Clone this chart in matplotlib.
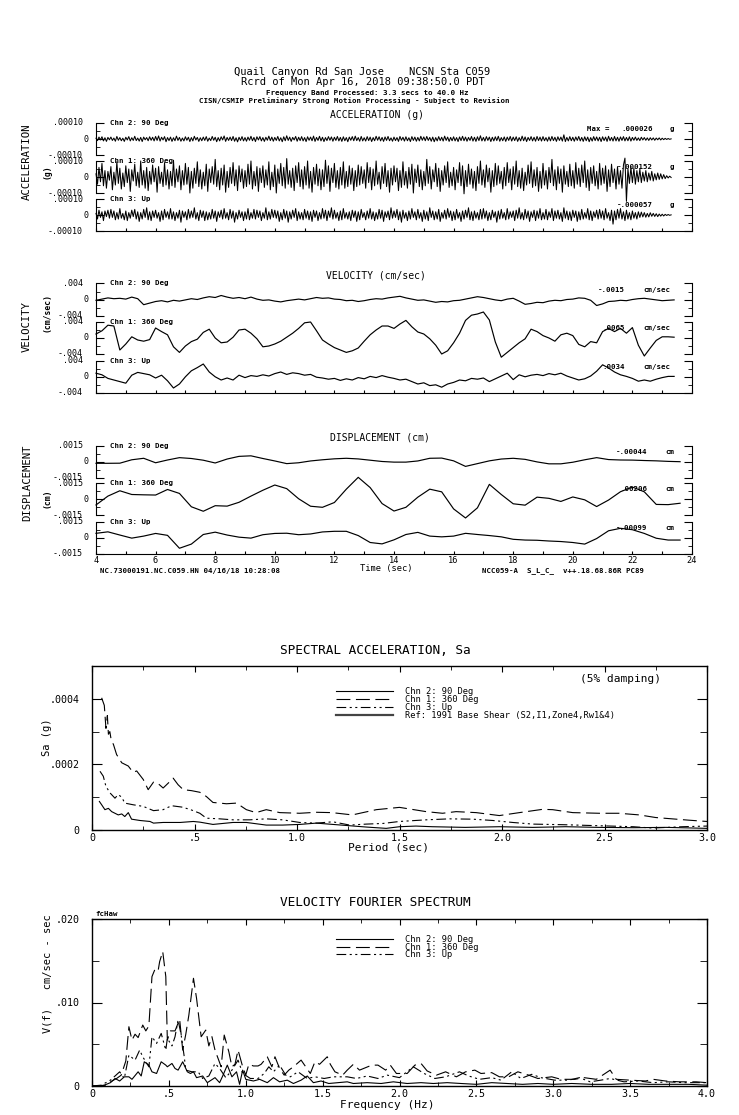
import numpy as np
import matplotlib.pyplot as plt
from matplotlib.lines import Line2D
from matplotlib.ticker import MultipleLocator

plt.rcParams['font.family'] = 'DejaVu Sans Mono'
plt.rcParams['lines.scale_dashes'] = False

# header / footer text
station = 'Quail Canyon Rd San Jose    NCSN Sta C059'
record = 'Rcrd of Mon Apr 16, 2018 09:38:50.0 PDT'
band = 'Frequency Band Processed: 3.3 secs to 40.0 Hz'
notice = 'CISN/CSMIP Preliminary Strong Motion Processing - Subject to Revision'
footer_left = 'NC.73000191.NC.C059.HN 04/16/18 10:28:08'
footer_right = 'NCC059-A  S_L_C_  v++.18.68.86R PC89'

channels = ['Chn 2: 90 Deg', 'Chn 1: 360 Deg', 'Chn 3: Up']

# acceleration, 1e-6 g, every 0.05 s from 4.0 s (one row = 1 s)
acc_ch2 = [5, -10, 12, -6, 14, -12, 8, -15, 10, -5, 12, -9, 6, -14, 16, -8, 9, -11, 5, -15,
           11, -6, 15, -12, 8, -9, 17, -10, 6, -13, 10, -16, 12, -5, 9, -11, 14, -8, 11, -12,
           16, -9, 19, -13, 11, -6, 15, -17, 9, -10, 12, -15, 8, -11, 18, -9, 10, -14, 6, -12,
           14, -8, 11, -16, 9, -12, 17, -6, 10, -15, 8, -11, 12, -9, 15, -14, 6, -10, 16, -8,
           11, -17, 9, -12, 14, -6, 19, -15, 10, -9, 12, -10, 16, -14, 8, -18, 11, -9, 15, -12,
           9, -14, 12, -8, 17, -11, 10, -16, 14, -6, 15, -12, 9, -15, 11, -8, 18, -10, 12, -14,
           10, -9, 16, -12, 8, -17, 14, -11, 20, -9, 12, -15, 10, -6, 16, -14, 11, -10, 15, -12,
           9, -16, 14, -8, 12, -11, 18, -15, 10, -9, 17, -12, 11, -16, 9, -10, 15, -8, 13, -14,
           11, -9, 16, -12, 10, -15, 14, -11, 9, -17, 12, -8, 15, -11, 18, -10, 9, -14, 16, -12,
           8, -13, 15, -10, 12, -16, 9, -11, 17, -8, 14, -12, 10, -15, 13, -9, 16, -11, 7, -14,
           12, -10, 9, -15, 16, -8, 11, -13, 14, -11, 8, -16, 15, -9, 12, -14, 10, -12, 17, -8,
           13, -11, 16, -9, 10, -14, 12, -17, 9, -12, 15, -10, 11, -13, 18, -9, 12, -15, 10, -11,
           14, -12, 9, -16, 13, -10, 17, -11, 12, -14, 10, -9, 16, -13, 11, -15, 14, -10, 20, -12,
           10, -13, 15, -9, 12, -16, 11, -12, 14, -10, 17, -14, 9, -11, 13, -15, 12, -9, 16, -13,
           12, -10, 14, -15, 9, -12, 18, -11, 13, -16, 10, -9, 15, -12, 11, -14, 16, -10, 12, -13,
           15, -11, 9, -14, 13, -12, 16, -10, 11, -15, 14, -9, 12, -13, 26, -16, 10, -12, 15, -11,
           11, -14, 13, -9, 16, -12, 10, -15, 14, -11, 12, -17, 9, -13, 15, -10, 13, -12, 11, -16,
           14, -10, 12, -15, 17, -11, 10, -13, 16, -12, 11, -14, 13, -9, 15, -12, 10, -11, 14, -13,
           10, -8, 12, -9, 7, -10, 11, -6, 9, -8, 7, -9, 8, -6, 7, -8, 6, -5, 7, -6,
           5, -4, 4, -3, 3, -2, 1]
acc_ch1 = [20, -45, 60, -30, 85, -55, 40, -70, 35, -20, 65, -80, 30, -50, 95, -40, 55, -75, 25, -60,
           70, -35, 50, -90, 45, -25, 80, -55, 30, -65, 100, -50, 40, -70, 60, -85, 35, -45, 75, -30,
           55, -95, 65, -40, 30, -60, 90, -50, 45, -75, 35, -55, 105, -65, 50, -30, 70, -80, 40, -50,
           85, -45, 60, -100, 35, -70, 55, -40, 95, -60, 45, -75, 30, -55, 80, -90, 50, -35, 65, -45,
           110, -60, 40, -80, 55, -50, 75, -95, 35, -65, 60, -40, 90, -55, 45, -85, 70, -30, 50, -70,
           40, -60, 80, -45, 100, -75, 35, -55, 65, -90, 55, -35, 70, -65, 45, -50, 95, -80, 30, -60,
           75, -100, 50, -40, 85, -55, 60, -70, 115, -45, 40, -65, 55, -85, 70, -35, 90, -60, 45, -75,
           65, -50, 100, -70, 35, -95, 60, -45, 80, -55, 50, -80, 45, -60, 105, -40, 70, -90, 55, -35,
           85, -65, 40, -75, 60, -50, 95, -70, 35, -60, 70, -45, 55, -85, 40, -60, 75, -50, 65, -40,
           45, -70, 90, -35, 60, -80, 50, -55, 100, -45, 30, -75, 65, -40, 85, -60, 40, -95, 55, -50,
           70, -30, 55, -85, 40, -65, 95, -50, 35, -70, 60, -45, 80, -100, 50, -35, 75, -60, 45, -80,
           35, -55, 110, -40, 65, -75, 45, -30, 85, -60, 55, -90, 40, -50, 70, -35, 95, -65, 30, -55,
           60, -80, 45, -35, 90, -55, 70, -105, 40, -60, 80, -45, 50, -70, 35, -85, 65, -40, 100, -50,
           45, -65, 75, -30, 55, -95, 40, -60, 85, -50, 70, -40, 35, -75, 60, -55, 90, -35, 50, -80,
           65, -45, 100, -60, 40, -70, 55, -85, 30, -50, 75, -40, 95, -65, 45, -55, 60, -90, 35, -70,
           85, -50, 40, -75, 60, -35, 110, -55, 45, -80, 65, -40, 50, -95, 70, -45, 35, -60, 80, -55,
           40, -70, 90, -45, 55, -60, 75, -35, 100, -65, 45, -85, 60, -40, 70, -55, 35, -75, 85, -50,
           55, -40, 70, -90, 45, -60, 80, -35, 50, -75, 65, -45, 40, -70, 75, 118, -152, 50, -40, 60,
           -35, 55, -45, 40, -30, 50, -35, 30, -25, 40, -30, 25, -20, 35, -25, 20, -18, 25, -15, 20,
           -12, 15, -10, 8, -6, 5, -3]
acc_ch3 = [10, -25, 30, -15, 20, -35, 25, -10, 30, -20, 35, -15, 25, -30, 15, -25, 40, -20, 10, -30,
           25, -35, 15, -20, 30, -10, 35, -25, 20, -40, 15, -25, 35, -15, 45, -30, 20, -35, 25, -15,
           30, -20, 15, -40, 25, -30, 35, -15, 20, -25, 40, -25, 20, -35, 15, -20, 30, -45, 25, -15,
           20, -30, 35, -20, 25, -15, 45, -25, 15, -35, 30, -15, 25, -35, 20, -30, 15, -25, 35, -20,
           25, -40, 20, -15, 30, -25, 40, -20, 15, -30, 35, -20, 25, -45, 15, -25, 30, -15, 20, -35,
           20, -25, 40, -30, 15, -20, 35, -25, 30, -15, 25, -35, 15, -20, 45, -30, 20, -25, 35, -15,
           30, -20, 25, -40, 15, -30, 35, -20, 25, -45, 20, -25, 30, -15, 40, -35, 20, -25, 15, -30,
           35, -20, 25, -30, 20, -40, 30, -15, 25, -35, 15, -25, 40, -20, 30, -35, 25, -15, 45, -25,
           30, -20, 15, -35, 25, -30, 40, -20, 15, -25, 20, -35, 30, -15, 25, -40, 20, -30, 35, -15,
           15, -30, 25, -20, 40, -25, 20, -35, 15, -25, 35, -20, 30, -40, 20, -15, 25, -30, 45, -20,
           25, -15, 35, -30, 20, -45, 30, -20, 15, -35, 25, -25, 40, -15, 20, -30, 35, -20, 15, -40,
           30, -25, 20, -35, 45, -15, 25, -30, 20, -25, 35, -40, 15, -20, 30, -25, 40, -15, 25, -35,
           20, -30, 35, -20, 15, -40, 25, -25, 30, -15, 45, -30, 20, -35, 25, -20, 15, -30, 35, -25,
           40, -20, 25, -35, 15, -30, 30, -15, 20, -45, 25, -25, 35, -20, 15, -30, 40, -25, 20, -15,
           25, -35, 30, -20, 45, -25, 15, -30, 35, -20, 25, -40, 20, -15, 30, -35, 25, -20, 40, -30,
           15, -25, 35, -30, 20, -15, 40, -35, 25, -20, 30, -25, 15, -40, 45, -20, 25, -30, 20, -35,
           30, -15, 25, -40, 20, -30, 35, -25, 15, -20, 40, -30, 25, -35, 20, -15, 30, -25, 35, -20,
           25, -30, 40, -20, 15, -35, 30, -57, 25, -30, 35, -20, 40, -25, 20, -35, 30, -25, 15, -30,
           25, -20, 15, -25, 20, -15, 18, -12, 15, -14, 10, -12, 14, -8, 10, -9, 8, -10, 6, -7,
           5, -6, 4, -3, 3, -2, 1]
acc_peaks = ['.000026', '-.000152', '-.000057']

# velocity, 1e-4 cm/sec, every 0.2 s from 4.0 s
vel_ch2 = [-2, 1, 4, 2, 3, 1, 6, 2, -13, -9,
           -5, -3, -6, -2, -4, -1, 2, 0, 4, 7,
           5, 10, 6, 3, 5, 2, 6, 1, -2, -1,
           -4, -6, -3, -1, 1, -1, 2, 5, 3, 4,
           1, 0, -3, -2, -5, -3, 0, 2, 1, 4,
           6, 8, 4, 1, -2, -1, -4, -7, -5, -6,
           -3, -2, 1, 4, 7, 5, 2, -1, -3, 1,
           3, -4, -12, -10, -7, -8, -4, -2, -3, 0,
           1, 4, 3, -2, -15, -11, -5, -4, -2, -3,
           0, 2, 3, 1, -1, -3, -2, -1]
vel_ch1 = [10, 18, 32, 30, -30, -15, 3, -5, -8, -4,
           25, 16, 8, -22, -36, -20, -9, -3, 14, 22,
           0, -12, -10, 2, 20, 22, 12, -2, -22, -20,
           -15, -8, 2, 12, 24, 38, 40, 18, -5, -15,
           -24, -30, -36, -32, -25, -8, 8, 20, 30, 30,
           24, 35, 44, 28, 15, 10, -2, -18, -40, -32,
           -12, 12, 44, 57, 60, 65, 45, -10, -48, -36,
           -24, -12, -2, 22, 16, 6, 0, -8, 8, 12,
           6, -16, -22, -9, -12, 16, 24, 16, 24, 12,
           26, -18, -45, -25, -6, 3, 3, 2]
vel_ch3 = [9, 5, -4, -8, -12, -16, 4, 11, 8, 5,
           -3, 4, -10, -28, -18, 0, 15, 23, 32, 12,
           0, -8, -3, -8, 4, -2, 3, 1, 5, 2,
           8, 12, 6, 10, 8, 4, 6, -1, -3, -6,
           -4, -9, -5, -8, -2, -5, 1, -2, 3, -1,
           -4, -8, -6, -12, -18, -15, -22, -20, -26, -18,
           -14, -8, -10, -4, -6, -3, -12, -5, 2, 9,
           -7, 5, 0, 4, 6, 3, 8, 5, 9, 2,
           -3, -8, -5, 2, 14, 30, 22, 12, 5, 1,
           -4, -11, -8, -11, -6, -2, 1, 1]
vel_peaks = ['-.0015', '.0065', '.0034']

# displacement, 1e-5 cm, every 0.4 s from 4.0 s
disp_ch2 = [-15, -15, -14, 18, 32, -10, 16, 38, 30, 14,
            -12, 25, 50, 55, 30, 7, -18, -10, 7, 18,
            27, 32, 26, 14, 2, -4, -4, 7, 32, 34,
            8, -44, -18, 8, 25, 32, 22, -2, -20, -20,
            -5, 18, 38, 20, 16, 15, 11, 8, 3, 0]
disp_ch1 = [-53, 30, 80, 45, 42, 40, 92, 55, -70, -112,
            -60, -64, -28, 30, 85, 134, 100, 5, -65, -75,
            -30, 95, 206, 110, -40, -110, -75, 20, 95, 70,
            -90, -175, -80, 140, 45, -42, -55, 20, 9, -20,
            22, -5, -68, -7, 71, 115, 70, -48, -50, -37]
disp_ch3 = [41, 55, 25, -4, 15, 40, 22, -99, -60, 30,
            52, 25, 5, -4, 28, 40, 42, 28, 35, 54,
            60, 60, 20, -45, -58, -20, 30, 50, 15, 8,
            15, 41, 30, 20, 8, -15, -22, -24, -31, -36,
            -45, -60, -8, 65, 88, 75, 40, -5, -22, -22]
disp_peaks = ['-.00044', '.00206', '-.00099']

# spectral acceleration, 5% damping, 1e-6 g
sa_period_ch2 = [0.036, 0.047, 0.063, 0.08, 0.096, 0.112, 0.128, 0.145, 0.16, 0.177,
                 0.193, 0.234, 0.283, 0.30, 0.347, 0.43, 0.494, 0.526, 0.59, 0.688,
                 0.753, 0.85, 0.93, 1.013, 1.094, 1.175, 1.257, 1.338, 1.435, 1.50,
                 1.58, 1.66, 1.82, 1.987, 2.15, 2.31, 2.47, 2.64, 2.80, 3.0]
sa_ch2 = [87, 77, 62, 66, 56, 51, 46, 49, 41, 53,
          33, 29, 26, 21, 23, 23, 26, 24, 17, 23,
          23, 15, 15, 17, 21, 17, 13, 9, 5, 10,
          12, 10, 8, 10, 8, 10, 8, 7, 8, 5]
sa_period_ch1 = [0.047, 0.06, 0.068, 0.075, 0.08, 0.087, 0.093, 0.105, 0.12, 0.145,
                 0.177, 0.20, 0.218, 0.25, 0.274, 0.30, 0.32, 0.347, 0.372, 0.396,
                 0.42, 0.445, 0.485, 0.526, 0.558, 0.59, 0.656, 0.705, 0.753, 0.80,
                 0.85, 0.916, 1.013, 1.094, 1.17, 1.27, 1.387, 1.50, 1.63, 1.71,
                 1.776, 1.874, 1.987, 2.085, 2.198, 2.247, 2.345, 2.474, 2.57, 2.67,
                 2.75, 2.85, 2.91, 3.0]
sa_ch1 = [403, 380, 310, 349, 292, 300, 277, 260, 230, 205,
          195, 176, 180, 154, 123, 146, 143, 128, 143, 158,
          138, 123, 120, 115, 102, 84, 80, 82, 62, 53,
          62, 53, 51, 54, 53, 46, 62, 69, 56, 51,
          56, 53, 44, 53, 63, 62, 53, 51, 51, 46,
          38, 33, 30, 26]
sa_period_ch3 = [0.039, 0.055, 0.068, 0.088, 0.112, 0.128, 0.145, 0.16, 0.20, 0.25,
                 0.30, 0.347, 0.388, 0.437, 0.477, 0.526, 0.558, 0.623, 0.688, 0.77,
                 0.85, 0.93, 1.013, 1.094, 1.175, 1.257, 1.338, 1.42, 1.50, 1.63,
                 1.744, 1.857, 1.955, 2.052, 2.15, 2.31, 2.474, 2.64, 2.734, 2.88,
                 3.0]
sa_ch3 = [179, 164, 133, 113, 97, 108, 100, 82, 77, 72,
          59, 62, 74, 70, 63, 51, 36, 34, 31, 31,
          34, 31, 23, 21, 25, 15, 18, 20, 26, 31,
          34, 33, 29, 23, 18, 16, 13, 10, 6, 10,
          12]
sa_labels = ['Chn 2: 90 Deg', 'Chn 1: 360 Deg', 'Chn 3: Up',
             'Ref: 1991 Base Shear (S2,I1,Zone4,Rw1&4)']

# velocity fourier spectrum, 1e-4 cm/sec-sec
fs_freq_ch2 = [0.0, 0.04, 0.08, 0.12, 0.15, 0.18, 0.21, 0.24, 0.26, 0.30,
               0.32, 0.34, 0.37, 0.39, 0.42, 0.45, 0.48, 0.49, 0.52, 0.54,
               0.56, 0.59, 0.62, 0.64, 0.66, 0.68, 0.72, 0.75, 0.80, 0.83,
               0.85, 0.88, 0.91, 0.94, 0.96, 0.98, 1.00, 1.05, 1.09, 1.14,
               1.18, 1.22, 1.27, 1.31, 1.36, 1.40, 1.44, 1.49, 1.54, 1.60,
               1.66, 1.70, 1.79, 1.88, 1.96, 2.05, 2.14, 2.22, 2.31, 2.40,
               2.50, 2.60, 2.70, 2.80, 2.90, 3.00, 3.12, 3.25, 3.38, 3.50,
               3.62, 3.75, 3.88, 4.0]
fs_ch2 = [0, 0, 1, 4, 9, 6, 11, 11, 8, 17,
          12, 29, 25, 17, 15, 29, 25, 23, 27, 21,
          19, 29, 17, 15, 17, 10, 12, 4, 10, 4,
          12, 25, 11, 17, 2, 19, 8, 6, 8, 4,
          10, 5, 7, 3, 7, 12, 4, 6, 3, 4,
          5, 3, 4, 3, 5, 3, 4, 3, 4, 3,
          2, 4, 3, 2, 3, 2, 3, 2, 2, 3,
          2, 2, 2, 1]
fs_freq_ch1 = [0.0, 0.05, 0.09, 0.12, 0.16, 0.19, 0.22, 0.24, 0.26, 0.28,
               0.30, 0.33, 0.35, 0.37, 0.39, 0.41, 0.43, 0.44, 0.46, 0.48,
               0.49, 0.51, 0.54, 0.57, 0.59, 0.61, 0.63, 0.66, 0.68, 0.71,
               0.74, 0.76, 0.78, 0.80, 0.84, 0.86, 0.89, 0.91, 0.93, 0.95,
               0.98, 1.00, 1.02, 1.05, 1.08, 1.10, 1.14, 1.17, 1.19, 1.22,
               1.25, 1.28, 1.31, 1.36, 1.39, 1.42, 1.45, 1.48, 1.53, 1.55,
               1.58, 1.63, 1.66, 1.70, 1.74, 1.78, 1.82, 1.86, 1.91, 1.94,
               1.98, 2.05, 2.10, 2.14, 2.18, 2.24, 2.30, 2.37, 2.43, 2.49,
               2.53, 2.60, 2.65, 2.71, 2.77, 2.84, 2.90, 2.99, 3.05, 3.14,
               3.20, 3.28, 3.37, 3.41, 3.50, 3.60, 3.65, 3.73, 3.82, 3.93,
               4.0]
fs_ch1 = [0, 0, 1, 5, 9, 13, 30, 71, 55, 62,
          58, 73, 66, 72, 131, 140, 138, 149, 161, 131,
          55, 66, 66, 80, 43, 62, 85, 129, 105, 59,
          67, 48, 59, 43, 23, 61, 41, 23, 26, 43,
          23, 13, 26, 24, 24, 26, 35, 23, 35, 21,
          13, 19, 23, 31, 23, 15, 29, 26, 35, 26,
          17, 13, 19, 26, 19, 22, 25, 25, 19, 25,
          15, 15, 25, 27, 18, 13, 17, 11, 17, 19,
          15, 16, 11, 11, 17, 13, 9, 11, 8, 8,
          10, 8, 19, 8, 7, 6, 8, 6, 5, 5,
          4]
fs_freq_ch3 = [0.0, 0.06, 0.12, 0.18, 0.21, 0.24, 0.28, 0.31, 0.33, 0.37,
               0.39, 0.42, 0.45, 0.48, 0.49, 0.52, 0.54, 0.56, 0.58, 0.60,
               0.61, 0.65, 0.69, 0.72, 0.76, 0.80, 0.83, 0.87, 0.91, 0.95,
               0.98, 1.03, 1.08, 1.12, 1.15, 1.18, 1.22, 1.26, 1.29, 1.34,
               1.40, 1.45, 1.51, 1.57, 1.66, 1.72, 1.79, 1.86, 1.92, 2.00,
               2.09, 2.16, 2.23, 2.30, 2.39, 2.45, 2.52, 2.60, 2.66, 2.73,
               2.79, 2.86, 2.92, 3.01, 3.10, 3.17, 3.24, 3.31, 3.37, 3.46,
               3.55, 3.65, 3.75, 3.85, 3.95, 4.0]
fs_ch3 = [0, 1, 7, 17, 9, 37, 31, 43, 35, 23,
          59, 51, 63, 43, 57, 48, 59, 79, 61, 35,
          19, 17, 17, 9, 12, 27, 21, 10, 19, 31,
          15, 9, 9, 15, 23, 17, 25, 13, 11, 17,
          9, 11, 9, 11, 11, 9, 12, 9, 13, 10,
          23, 15, 9, 11, 17, 12, 8, 10, 7, 17,
          9, 14, 10, 7, 7, 10, 5, 7, 9, 5,
          6, 4, 5, 4, 4, 4]

W, H = 739, 1115
fig = plt.figure(figsize=(W / 100, H / 100), dpi=100)

STYLE_CH1 = (0, (10, 4))
STYLE_CH3 = (0, (7, 2.5, 1.5, 2.5, 1.5, 2.5))


def box(left, top, right, bottom):
    return [left / W, 1 - bottom / H, (right - left) / W, (bottom - top) / H]


def ftext(px, py, s, **kw):
    kw.setdefault('ha', 'center')
    kw.setdefault('va', 'center')
    fig.text(px / W, 1 - py / H, s, **kw)


#header
ftext(362, 72, station, fontsize=7.5)
ftext(363, 82, record, fontsize=7.5)
ftext(367, 92.5, band, fontsize=5.4, weight='bold')
ftext(354, 100.5, notice, fontsize=5.3, weight='bold')


def history(zeros, series, scale, t_end, ymax, lab_top, lab_bot, peaks,
            unit, val_x, unit_x, lw=0.85, xlabels=False, max_tag=False):
    L, R = 96, 692
    for i, (z, vals, pk) in enumerate(zip(zeros, series, peaks)):
        ax = fig.add_axes(box(L, z - 16, R, z + 16))
        ax.patch.set_visible(False)
        t = np.linspace(4.0, t_end, len(vals))
        ax.plot(t, np.array(vals) * scale, color='k', lw=lw, clip_on=False)
        ax.set_xlim(4, 24)
        ax.set_ylim(-ymax, ymax)
        last = i == len(zeros) - 1
        ax.spines['top'].set_visible(False)
        ax.spines['bottom'].set_visible(last)
        ax.set_yticks([-ymax, 0, ymax])
        ax.set_yticks([-ymax / 2, ymax / 2], minor=True)
        ax.tick_params(axis='y', which='major', direction='in', length=6,
                       left=True, right=True, labelleft=False)
        ax.tick_params(axis='y', which='minor', direction='in', length=3,
                       left=True, right=True)
        if last:
            ticks = np.arange(4, 25)
            ax.set_xticks(ticks)
            ax.set_xticklabels([str(v) if v % 2 == 0 else '' for v in ticks])
            ax.tick_params(axis='x', direction='in', length=2.2, labelsize=6.2,
                           pad=1.5, labelbottom=xlabels)
        else:
            ax.tick_params(axis='x', bottom=False, labelbottom=False)
        yt = ax.get_yaxis_transform()
        ax.text(-13 / (R - L), ymax, lab_top, transform=yt, ha='right', va='center', fontsize=6)
        ax.text(-7 / (R - L), 0, '0', transform=yt, ha='right', va='center', fontsize=6)
        ax.text(-13 / (R - L), -ymax, lab_bot, transform=yt, ha='right', va='center', fontsize=6)
        ax.text(14 / (R - L), 1.0, channels[i], transform=ax.transAxes,
                ha='left', va='center', fontsize=5.3, weight='bold')
        ax.text((val_x - L) / (R - L), 0.81, pk, transform=ax.transAxes,
                ha='right', va='center', fontsize=5.3, weight='bold')
        ax.text((unit_x - L) / (R - L), 0.81, unit, transform=ax.transAxes,
                ha='left', va='center', fontsize=5.3, weight='bold')
        if max_tag and i == 0:
            ax.text((587 - L) / (R - L), 0.81, 'Max =', transform=ax.transAxes,
                    ha='left', va='center', fontsize=5.3, weight='bold')


# acceleration
ftext(330, 115, 'ACCELERATION (g)', ha='left', fontsize=7)
ftext(27, 162, 'ACCELERATION', rotation=90, fontsize=7.7)
ftext(47, 172, '(g)', rotation=90, fontsize=5.8, weight='bold')
history([139, 177, 215], [acc_ch2, acc_ch1, acc_ch3], 1e-6, 23.3, 1e-4,
        '.00010', '-.00010', acc_peaks, 'g', 653, 670, lw=0.75, max_tag=True)

# velocity
ftext(326, 275, 'VELOCITY (cm/sec)', ha='left', fontsize=7)
ftext(27, 327, 'VELOCITY', rotation=90, fontsize=7.7)
ftext(47, 313, '(cm/sec)', rotation=90, fontsize=5.8, weight='bold')
history([299.5, 338, 376.8], [vel_ch2, vel_ch1, vel_ch3], 1e-4, 23.4, 0.004,
        '.004', '-.004', vel_peaks, 'cm/sec', 625, 643)

# displacement
ftext(330, 437, 'DISPLACEMENT (cm)', ha='left', fontsize=7)
ftext(27, 483, 'DISPLACEMENT', rotation=90, fontsize=7.7)
ftext(47, 498, '(cm)', rotation=90, fontsize=5.8, weight='bold')
history([461.7, 499.3, 537.7], [disp_ch2, disp_ch1, disp_ch3], 1e-5, 23.6, 0.0015,
        '.0015', '-.0015', disp_peaks, 'cm', 647, 665, xlabels=True)
ftext(386.5, 568, 'Time (sec)', fontsize=6.3)
ftext(100, 570.5, footer_left, ha='left', fontsize=5.3, weight='bold')
ftext(481.7, 570.5, footer_right, ha='left', fontsize=5.3, weight='bold')


def spectrum_axes(top, bottom, xmax, ymax, ymajor, xlabs, ylabs):
    ax = fig.add_axes(box(92, top, 707, bottom))
    ax.set_xlim(0, xmax)
    ax.set_ylim(0, ymax)
    ax.set_xticks(np.arange(len(xlabs)) * 0.5)
    ax.set_xticklabels(xlabs, fontsize=7.2)
    ax.xaxis.set_minor_locator(MultipleLocator(0.25))
    ax.set_yticks(np.arange(len(ylabs)) * ymajor)
    ax.set_yticklabels(ylabs, fontsize=7.2)
    ax.yaxis.set_minor_locator(MultipleLocator(ymajor / 2))
    ax.tick_params(which='both', direction='in', top=True, right=True)
    ax.tick_params(axis='x', which='major', length=4.5, pad=2.5)
    ax.tick_params(axis='x', which='minor', length=3)
    ax.tick_params(axis='y', which='major', length=7, pad=9)
    ax.tick_params(axis='y', which='minor', length=5)
    for s in ax.spines.values():
        s.set_linewidth(1.0)
    return ax


# spectral acceleration
ftext(280, 651, 'SPECTRAL ACCELERATION, Sa', ha='left', fontsize=9.2)
ax = spectrum_axes(666, 830, 3.0, 0.0005, 0.0002,
                   ['0', '.5', '1.0', '1.5', '2.0', '2.5', '3.0'],
                   ['0', '.0002', '.0004'])
l2, = ax.plot(sa_period_ch2, np.array(sa_ch2) * 1e-6, color='k', lw=0.8)
l1, = ax.plot(sa_period_ch1, np.array(sa_ch1) * 1e-6, color='k', lw=0.8, ls=STYLE_CH1)
l3, = ax.plot(sa_period_ch3, np.array(sa_ch3) * 1e-6, color='k', lw=0.8, ls=STYLE_CH3)
ref = Line2D([], [], color='#444444', lw=1.6)
ax.legend([l2, l1, l3, ref], sa_labels, loc='upper left', bbox_to_anchor=(0.397, 0.87),
          frameon=False, prop=dict(size=6.3), handlelength=6.5, handletextpad=1.4,
          labelspacing=-0.14, borderpad=0, borderaxespad=0)
ftext(580, 679, '(5% damping)', ha='left', fontsize=8)
ftext(47, 737, 'Sa (g)', rotation=90, fontsize=7.5)
ftext(388, 847, 'Period (sec)', fontsize=8)

# velocity fourier spectrum
ftext(280, 903, 'VELOCITY FOURIER SPECTRUM', ha='left', fontsize=9.2)
ax = spectrum_axes(919, 1086, 4.0, 0.020, 0.010,
                   ['0', '.5', '1.0', '1.5', '2.0', '2.5', '3.0', '3.5', '4.0'],
                   ['0', '.010', '.020'])
f2, = ax.plot(fs_freq_ch2, np.array(fs_ch2) * 1e-4, color='k', lw=0.8)
f1, = ax.plot(fs_freq_ch1, np.array(fs_ch1) * 1e-4, color='k', lw=0.8, ls=STYLE_CH1)
f3, = ax.plot(fs_freq_ch3, np.array(fs_ch3) * 1e-4, color='k', lw=0.8, ls=STYLE_CH3)
ax.legend([f2, f1, f3], sa_labels[:3], loc='upper left', bbox_to_anchor=(0.397, 0.905),
          frameon=False, prop=dict(size=6.3), handlelength=6.5, handletextpad=1.4,
          labelspacing=-0.14, borderpad=0, borderaxespad=0)
ftext(95, 914, 'fcHaw', ha='left', fontsize=5.3, weight='bold')
ftext(47, 974, 'V(f)   cm/sec - sec', rotation=90, fontsize=7.5)
ftext(387, 1105, 'Frequency (Hz)', fontsize=8)

fig.savefig('out.png', dpi=100)
